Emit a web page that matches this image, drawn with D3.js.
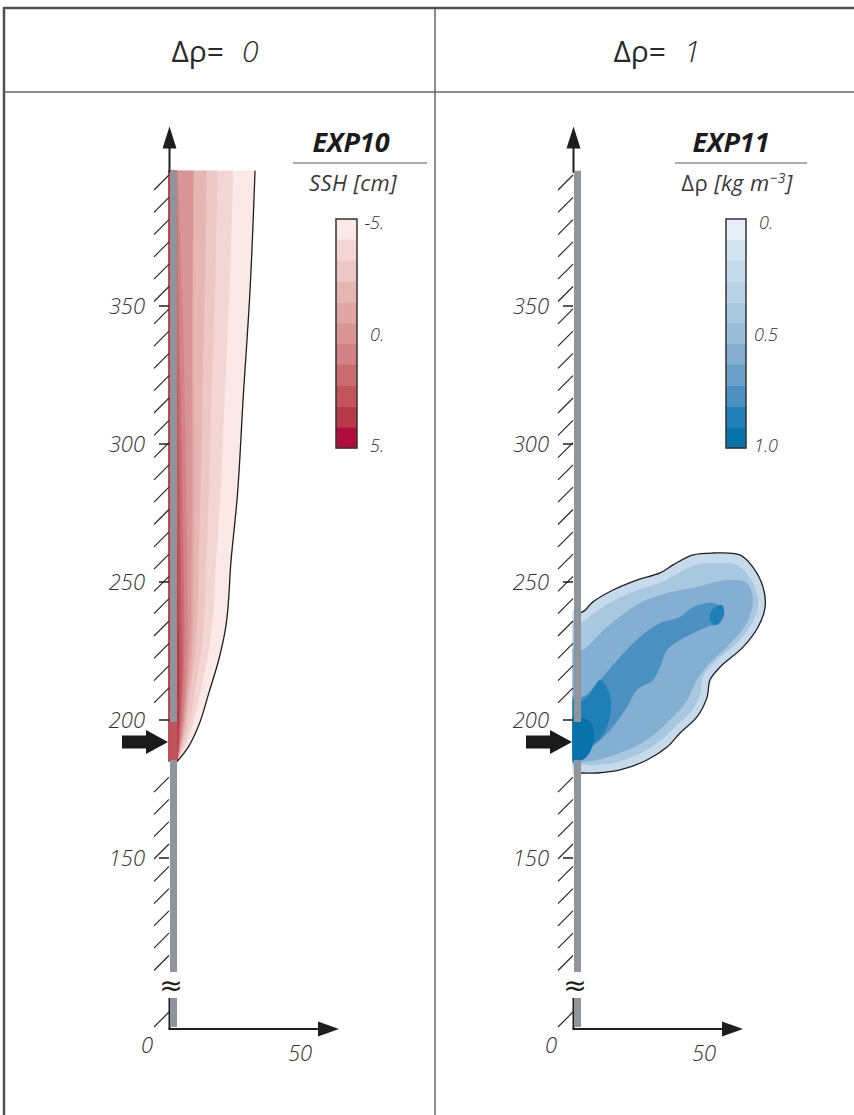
<html>
<head>
<meta charset="utf-8">
<title>EXP10 / EXP11</title>
<script src="https://d3js.org/d3.v7.min.js"></script>
<style>
body { margin: 0; background: #ffffff; }
text { font-family: 'Open Sans', sans-serif; fill: #3a3a3a; }
.header { font-size: 30px; fill: #2a2a2a; }
.tickLabel { font-size: 22px; font-style: italic; font-weight: 300; fill: #333; }
.expTitle { font-size: 27px; font-weight: bold; font-style: italic; fill: #1c1c1c; }
.expSub { font-size: 22px; font-style: italic; letter-spacing: 0.4px; }
.legLabel { font-size: 18px; font-style: italic; font-weight: 300; fill: #333; }
</style>
</head>
<body>
<script>
// ---- data ----
var headerValues = ['0', '1'];
var expNames = ['EXP10', 'EXP11'];
var yTicks = [150, 200, 250, 300, 350];
var xTickLabels = [0, 50];
var wallTop = 399;             // km alongshore, top of plotted domain
var inflow = [185.5, 199.3];   // gap in the wall (km)
var inflowCentre = 192;
var axisBreak = [99.3, 108.7];
var yArrowTip = 415;
var xArrowTip = 65;

var sshColors = ['#fbe9e8', '#f3d6d4', '#edc7c5', '#e6b6b4', '#e0a5a4', '#d99495',
                 '#d38386', '#cb6c70', '#c2545c', '#b83948', '#b10c3c'];
var sshLegendTicks = [-5, 0, 5];
var sshLegendText = ['-5.', '0.', '5.'];
var rhoColors = ['#e4eff7', '#d3e4f1', '#c5dbeb', '#b7d2e6', '#a8c8e0', '#97bdd9',
                 '#83b0d2', '#6aa1ca', '#4a91c2', '#1f80b8', '#0872ab'];
var rhoLegendTicks = [0, 0.5, 1];
var rhoLegendText = ['0.', '0.5', '1.0'];

// EXP10: SSH contour edges (km offshore) at alongshore stations (km)
var sshStations = [185, 190, 197.5, 210, 222, 234, 258, 280, 316, 356, 399];
var sshEdges = [
  [2.8, 6.9, 10.8, 15.0, 18.8, 21.5, 23.5, 25.8, 28.1, 30.8, 32.7],
  [2.8, 5.7, 8.5, 11.6, 14.3, 16.2, 17.7, 19.3, 21.0, 22.9, 24.3],
  [2.8, 5.0, 7.2, 9.5, 11.6, 13.0, 13.9, 14.9, 15.9, 17.3, 18.3],
  [2.8, 4.4, 6.0, 7.7, 9.3, 10.4, 11.0, 11.7, 12.4, 13.4, 14.1],
  [2.8, 4.1, 5.5, 6.9, 8.2, 8.9, 9.1, 9.2, 9.1, 8.9, 9.0],
  [2.8, 3.9, 5.1, 6.3, 7.4, 8.1, 8.2, 8.4, 8.4, 8.6, 9.0],
  [2.8, 3.8, 4.8, 5.8, 6.4, 6.7, 6.6, 6.3, 5.7, 4.6, 2.9],
  [2.8, 3.5, 4.2, 5.0, 5.4, 5.5, 5.2, 4.8, 4.1, 3.2, 2.7],
  [2.8, 3.3, 3.8, 4.3, 4.6, 4.5, 4.1, 3.7, 3.1, 2.7, 2.7],
  [2.8, 3.1, 3.4, 3.6, 3.6, 3.3, 2.9, 2.7, 2.7, 2.7, 2.7]
];
var sshBins = [0, 1, 2, 3, 4, 5, 6, 7, 8, 9];
var sshInflowBin = 8;

// EXP11: density anomaly contours, [km offshore, km alongshore]
var rhoOutline = [[-3,180.8],[-3,239.1],[3.1,239.1],[7.3,242.8],[15.0,247.1],[24.2,250.7],[33.1,253.3],
  [38.1,256.2],[45.8,259.8],[53.5,260.5],[63.8,259.8],[68.8,255.4],[72.7,248.2],[73.5,240.9],[70.8,233.7],
  [65.0,226.4],[56.2,219.2],[52.3,214.5],[51.2,208.3],[47.3,201.1],[40.8,195.3],[35.8,190.2],[28.1,185.5],
  [17.7,181.9],[8.8,180.8],[3.1,180.8]];
var rhoLevel1 = [[-3,183.7],[-3,235.5],[3.1,235.5],[8.1,239.1],[15.8,243.5],[24.6,247.1],[33.1,249.6],
  [38.8,252.5],[46.5,256.2],[53.5,256.9],[62.7,256.2],[66.9,252.5],[70.0,247.1],[70.8,240.9],[68.1,234.4],
  [62.7,227.9],[54.2,221.0],[49.6,215.6],[48.5,209.1],[44.6,202.5],[38.8,197.5],[33.8,192.8],[26.5,188.4],
  [16.9,184.8],[8.8,183.7],[3.1,183.7]];
var rhoLevel2 = [[-3,184.8],[-3,225.4],[3.1,225.4],[12.7,233.7],[25.4,242.4],[35.8,246.0],[47.3,248.2],
  [58.8,250.7],[66.5,249.6],[68.8,243.5],[66.5,235.1],[58.8,226.4],[52.3,220.7],[47.3,214.5],[43.5,207.2],
  [36.9,200.0],[28.1,192.8],[17.7,188.0],[8.8,185.5],[3.1,184.8]];
var rhoLevel3 = [[-3,188.0],[-3,208.3],[3.1,208.3],[10.0,214.5],[17.7,222.8],[25.4,230.1],[33.1,235.1],
  [40.8,237.3],[45.8,240.9],[53.5,242.4],[57.3,239.9],[56.2,235.1],[51.2,233.7],[40.8,229.0],[35.8,225.4],
  [33.1,219.2],[30.4,214.5],[24.2,210.9],[20.4,204.7],[15.0,197.5],[8.8,191.7],[3.1,188.0]];
var rhoLevel4 = [[-3,189.0],[-3,207.0],[3.1,207.0],[6.2,209.5],[10.0,214.5],[13.5,210.0],[14.0,202.0],
  [10.5,194.0],[3.1,189.0]];
var rhoPatch4 = [[52.3,236.2],[53.1,239.9],[56.9,241.7],[57.7,238.0],[54.6,234.4]];
var rhoLevel5 = [[-3,185.5],[-3,200.7],[3.1,200.7],[6.2,199.3],[7.7,194.6],[6.2,188.5],[3.1,185.5]];
var rhoShapes = [rhoOutline, rhoLevel1, rhoLevel2, rhoLevel3, rhoLevel4, rhoPatch4, rhoLevel5];
var rhoBins = [2, 4, 6, 8, 9, 9, 10];
var rhoInflowBin = 10;

// ---- layout ----
var width = 854, height = 1115;
var panelX0 = [170, 574];
var headerX = [215, 657];
var legendX = [336, 726];
var legendW = [21, 20];
var titleX = [351, 731];
var ruleX = [[293, 427], [675, 807]];
var subX = [353, 737];
var originY = 1029;

var svg = d3.select('body').append('svg')
  .attr('width', width).attr('height', height);

var yScale = d3.scaleLinear().domain([150, 350]).range([858, 306]);
var xScales = panelX0.map(function(x0) {
  return d3.scaleLinear().domain([0, 50]).range([x0, x0 + 130]);
});

// frame
var frame = svg.append('g').attr('stroke', '#505050').attr('fill', 'none');
frame.append('line').attr('x1', 4).attr('y1', 8).attr('x2', width).attr('y2', 8).attr('stroke-width', 2.5);
frame.append('line').attr('x1', 4).attr('y1', 7).attr('x2', 4).attr('y2', height).attr('stroke-width', 2.5);
frame.append('line').attr('x1', 4).attr('y1', 92).attr('x2', width).attr('y2', 92).attr('stroke-width', 1.5).attr('stroke', '#6a6a6a');
frame.append('line').attr('x1', 435).attr('y1', 8).attr('x2', 435).attr('y2', height).attr('stroke-width', 1.3);

headerValues.forEach(function(v, i) {
  var t = svg.append('text').attr('class', 'header')
    .attr('x', headerX[i]).attr('y', 62).attr('text-anchor', 'middle');
  t.append('tspan').text('Δρ=');
  t.append('tspan').attr('dx', 18).style('font-style', 'italic').style('font-weight', 300).text(v);
});

var defs = svg.append('defs');

function drawPanel(i) {
  var x = xScales[i];
  var x0 = x(0);
  var g = svg.append('g');

  defs.append('clipPath').attr('id', 'fieldClip' + i)
    .append('rect').attr('x', x0 - 1.5).attr('y', 0).attr('width', 400).attr('height', height);
  defs.append('clipPath').attr('id', 'lineClip' + i)
    .append('rect').attr('x', x0 + 7).attr('y', 0).attr('width', 400).attr('height', height);

  var field = g.append('g').attr('clip-path', 'url(#fieldClip' + i + ')');
  var outline = g.append('g').attr('clip-path', 'url(#lineClip' + i + ')');

  if (i === 0) {
    var area = d3.area()
      .y(function(d, k) { return yScale(sshStations[k]); })
      .x0(x(0) - 2)
      .x1(function(d) { return x(d); })
      .curve(d3.curveMonotoneY);
    field.selectAll('path.band').data(sshEdges).enter().append('path')
      .attr('class', 'band')
      .attr('d', area)
      .attr('fill', function(d, k) { return sshColors[sshBins[k]]; });
    field.append('rect')
      .attr('x', x0 - 2).attr('width', 9)
      .attr('y', yScale(inflow[1])).attr('height', yScale(inflow[0]) - yScale(inflow[1]))
      .attr('fill', sshColors[sshInflowBin]);
    var edgeLine = d3.line()
      .y(function(d, k) { return yScale(sshStations[k]); })
      .x(function(d) { return x(d); })
      .curve(d3.curveMonotoneY);
    outline.append('path').attr('d', edgeLine(sshEdges[0]))
      .attr('fill', 'none').attr('stroke', '#1e1e1e').attr('stroke-width', 1.3);
  } else {
    var shape = d3.line()
      .x(function(d) { return x(d[0]); })
      .y(function(d) { return yScale(d[1]); })
      .curve(d3.curveCatmullRomClosed.alpha(0.5));
    field.selectAll('path.band').data(rhoShapes).enter().append('path')
      .attr('class', 'band')
      .attr('d', shape)
      .attr('fill', function(d, k) { return rhoColors[rhoBins[k]]; });
    field.append('rect')
      .attr('x', x0 - 2).attr('width', 9)
      .attr('y', yScale(inflow[1])).attr('height', yScale(inflow[0]) - yScale(inflow[1]))
      .attr('fill', rhoColors[rhoInflowBin]);
    outline.append('path').attr('d', shape(rhoOutline))
      .attr('fill', 'none').attr('stroke', '#1e1e1e').attr('stroke-width', 1.3);
  }

  // y axis line (visible above the wall and below the break) with arrow
  var axis = g.append('g').attr('stroke', '#1e1e1e').attr('stroke-width', 2);
  axis.append('line').attr('x1', x0 - 0.5).attr('x2', x0 - 0.5)
    .attr('y1', yScale(wallTop) + 2).attr('y2', yScale(yArrowTip) + 18);
  axis.append('line').attr('x1', x0 - 0.5).attr('x2', x0 - 0.5)
    .attr('y1', originY).attr('y2', yScale(axisBreak[0]));
  axis.append('line').attr('x1', x0 - 1.5).attr('x2', x(xArrowTip) - 18)
    .attr('y1', originY).attr('y2', originY);
  g.append('path')
    .attr('d', 'M' + (x0 - 0.5) + ',' + yScale(yArrowTip) + 'l7,22l-14,0z')
    .attr('fill', '#1e1e1e');
  g.append('path')
    .attr('d', 'M' + x(xArrowTip) + ',' + originY + 'l-21,-7.5l0,15z')
    .attr('fill', '#1e1e1e');

  // gray wall
  var wall = [[wallTop, inflow[1]], [inflow[0], axisBreak[1]]];
  g.selectAll('rect.wall').data(wall).enter().append('rect')
    .attr('class', 'wall')
    .attr('x', x0).attr('width', 7)
    .attr('y', function(d) { return yScale(d[0]); })
    .attr('height', function(d) { return yScale(d[1]) - yScale(d[0]); })
    .attr('fill', '#8f959a');
  g.append('rect').attr('x', x0).attr('width', 7)
    .attr('y', yScale(axisBreak[0])).attr('height', originY - 2 - yScale(axisBreak[0]))
    .attr('fill', '#8f959a');

  // hatching of the coast
  var gapTop = yScale(inflow[1]) - 15, gapBot = yScale(inflow[0]);
  var hatchY = d3.range(175, 962, 22.3).filter(function(y) { return y < gapTop || y > gapBot; });
  hatchY.push(originY - 17);
  g.selectAll('line.hatch').data(hatchY).enter().append('line')
    .attr('class', 'hatch')
    .attr('x1', x0 - 1).attr('y1', function(d) { return d; })
    .attr('x2', x0 - 16).attr('y2', function(d) { return d + 15; })
    .attr('stroke', '#2a2a2a').attr('stroke-width', 1.2);

  // ticks and labels
  g.selectAll('line.ytick').data(yTicks).enter().append('line')
    .attr('class', 'ytick')
    .attr('x1', x0 - 11).attr('x2', x0 - 1)
    .attr('y1', function(d) { return yScale(d); }).attr('y2', function(d) { return yScale(d); })
    .attr('stroke', '#1e1e1e').attr('stroke-width', 1.5);
  g.selectAll('text.ylab').data(yTicks).enter().append('text')
    .attr('class', 'tickLabel ylab')
    .attr('x', x0 - 25).attr('y', function(d) { return yScale(d); })
    .attr('dy', '0.35em').attr('text-anchor', 'end')
    .text(function(d) { return d; });
  g.append('text').attr('class', 'tickLabel')
    .attr('x', x(xTickLabels[0]) - 23).attr('y', originY + 24)
    .attr('text-anchor', 'middle').text(xTickLabels[0]);
  g.append('text').attr('class', 'tickLabel')
    .attr('x', x(xTickLabels[1])).attr('y', originY + 32)
    .attr('text-anchor', 'middle').text(xTickLabels[1]);

  // axis break
  g.append('text').attr('x', x0 + 1).attr('y', (yScale(axisBreak[0]) + yScale(axisBreak[1])) / 2)
    .attr('dy', '0.35em').attr('text-anchor', 'middle')
    .style('font-family', 'DejaVu Sans').style('font-size', '28px').style('fill', '#1e1e1e').text('≈');

  // inflow arrow
  var ay = yScale(inflowCentre);
  g.append('path')
    .attr('d', 'M' + (x0 - 2) + ',' + ay + 'l-22,-12l0,5.5l-24,0l0,13l24,0l0,5.5z')
    .attr('fill', '#1a1a1a');

  // legend
  var colors = i === 0 ? sshColors : rhoColors;
  var lx = legendX[i], lw = legendW[i];
  var bin = d3.scaleLinear().domain([0, colors.length]).range([219, 448]);
  g.selectAll('rect.leg').data(colors).enter().append('rect')
    .attr('class', 'leg')
    .attr('x', lx).attr('width', lw)
    .attr('y', function(d, k) { return bin(k); })
    .attr('height', function(d, k) { return bin(k + 1) - bin(k) + 0.3; })
    .attr('fill', function(d) { return d; });
  g.append('rect').attr('x', lx).attr('y', 219).attr('width', lw).attr('height', 229)
    .attr('fill', 'none').attr('stroke', '#333').attr('stroke-width', 1.5);

  var ticks = i === 0 ? sshLegendTicks : rhoLegendTicks;
  var labels = i === 0 ? sshLegendText : rhoLegendText;
  var lab = d3.scaleLinear().domain(d3.extent(ticks)).range([223, 446]);
  g.selectAll('text.leglab').data(ticks).enter().append('text')
    .attr('class', 'legLabel leglab')
    .attr('x', function(d, k) { return i === 0 ? lx + lw + 27 : lx + lw + (k === 0 ? 13 : 8); })
    .attr('y', function(d) { return lab(d); })
    .attr('dy', '0.35em')
    .attr('text-anchor', i === 0 ? 'end' : 'start')
    .text(function(d, k) { return labels[k]; });

  g.append('text').attr('class', 'expTitle')
    .attr('x', titleX[i]).attr('y', 152).attr('text-anchor', 'middle').text(expNames[i]);
  g.append('line').attr('x1', ruleX[i][0]).attr('x2', ruleX[i][1])
    .attr('y1', 163).attr('y2', 163).attr('stroke', '#555').attr('stroke-width', 1.2);
  var sub = g.append('text').attr('class', 'expSub')
    .attr('x', subX[i]).attr('y', 191).attr('text-anchor', 'middle');
  if (i === 0) {
    sub.text('SSH [cm]');
  } else {
    sub.append('tspan').style('font-style', 'normal').text('Δρ ');
    sub.append('tspan').text('[kg m');
    sub.append('tspan').attr('dy', -8).style('font-size', '14px').text('−3');
    sub.append('tspan').attr('dy', 8).text(']');
  }
}

drawPanel(0);
drawPanel(1);
</script>
</body>
</html>
